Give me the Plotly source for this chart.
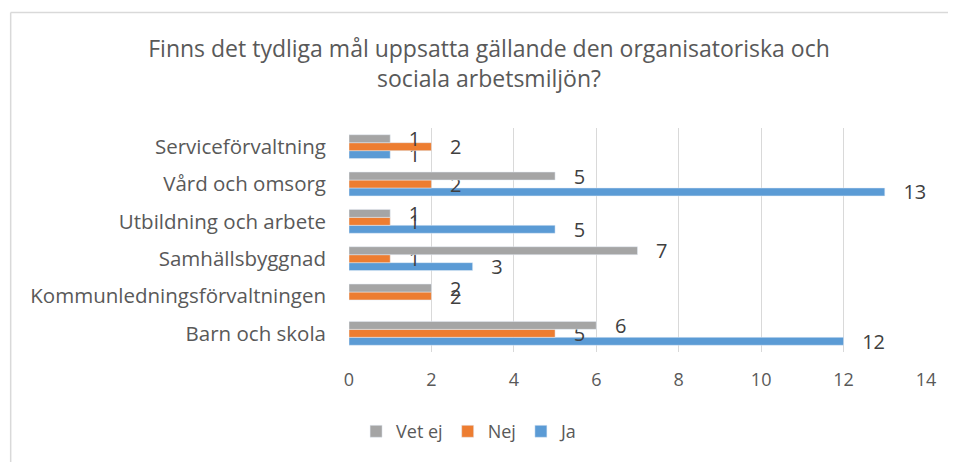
import plotly.graph_objects as go

categories = ["Barn och skola", "Kommunledningsförvaltningen", "Samhällsbyggnad",
              "Utbildning och arbete", "Vård och omsorg", "Serviceförvaltning"]
ja = [12, None, 3, 5, 13, 1]
nej = [5, 2, 1, 1, 2, 2]
vet_ej = [6, 2, 7, 1, 5, 1]
title = "Finns det tydliga mål uppsatta gällande den organisatoriska och<br>sociala arbetsmiljön?"

FONT = "Open Sans"
OFF = 8  # page body margin
fig = go.Figure()
for name, vals, color in [("Ja", ja, "#5b9bd5"), ("Nej", nej, "#ed7d31"), ("Vet ej", vet_ej, "#a5a5a5")]:
    fig.add_trace(go.Bar(
        y=categories, x=vals, name=name, orientation="h", marker_color=color,
        text=vals, texttemplate="   %{x}", textposition="outside", cliponaxis=False,
        constraintext="none",
        textfont=dict(family=FONT, size=20, color="#404040"),
    ))

W, H = 956 - 2 * OFF, 470 - 2 * OFF
L, R, T, B = 349 - OFF, (956 - OFF) - 928, 128 - OFF, (470 - OFF) - 356
pw, ph = W - L - R, H - T - B

def px(x):
    return (x - OFF - L) / pw

def py(y):
    return (H - B - (y - OFF)) / ph

border = dict(color="#d9d9d9", width=1.5)
fig.update_layout(
    width=W, height=H, margin=dict(l=L, r=R, t=T, b=B),
    paper_bgcolor="white", plot_bgcolor="white",
    barmode="group", bargap=0.36, bargroupgap=0,
    font=dict(family=FONT, color="#595959"),
    title=dict(text=title, x=(489 - OFF) / W, xanchor="center", y=1 - (57 - OFF) / H, yanchor="middle",
               font=dict(family=FONT, size=23, color="#595959")),
    xaxis=dict(range=[0, 14], dtick=2, showgrid=True, gridcolor="#d9d9d9", gridwidth=1.3,
               zeroline=False, showline=False, ticks="", ticklabelstandoff=15,
               tickfont=dict(family=FONT, size=18, color="#595959")),
    yaxis=dict(showgrid=False, zeroline=False, showline=False, ticks="", ticklabelstandoff=22,
               tickfont=dict(family=FONT, size=20.5, color="#595959")),
    legend=dict(orientation="h", traceorder="reversed", x=px(470), xanchor="center",
                y=py(437), yanchor="middle", font=dict(family=FONT, size=18, color="#595959")),
    showlegend=True,
    shapes=[
        dict(type="line", xref="paper", yref="paper", x0=px(9.5), x1=px(9.5),
             y0=py(470), y1=py(10.5), line=border, layer="below"),
        dict(type="line", xref="paper", yref="paper", x0=px(9.5), x1=px(956),
             y0=py(10.5), y1=py(10.5), line=border, layer="below"),
    ],
)
fig.write_html("out.html")
